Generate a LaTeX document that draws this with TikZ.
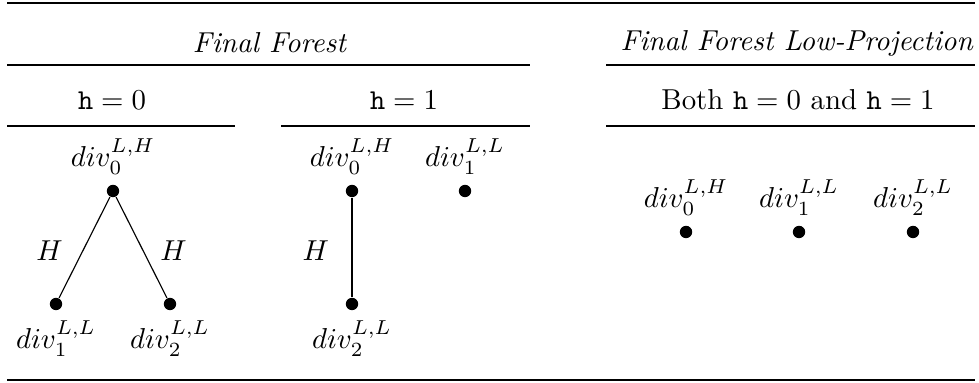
\documentclass[tikz,border=0pt]{standalone}
\usepackage{amsmath, amssymb}
\usepackage{tikz}

\begin{document}
\begin{tikzpicture}[x=0.347pt,y=-0.347pt,
  dot/.style={circle,fill,inner sep=0pt,minimum size=4.3pt},
  toprule/.style={line width=1pt},
  midrule/.style={line width=0.5pt}]
  \useasboundingbox (0,0) rectangle (979,383);
  % rules of the table
  \draw[toprule] (7,3)--(975,3);
  \draw[midrule] (7,65)--(530,65);
  \draw[midrule] (606,65)--(975,65);
  \draw[midrule] (7,126)--(235,126);
  \draw[midrule] (281,126)--(530,126);
  \draw[midrule] (606,126)--(975,126);
  \draw[toprule] (7,380)--(975,380);
  % headers
  \node (ff) at (270,43) {\textit{Final Forest}};
  \node (lp) at (797,43) {\textit{Final Forest Low-Projection}};
  \node (h0) at (112,100) {$\texttt{h}=0$};
  \node (h1) at (404,100) {$\texttt{h}=1$};
  \node (hb) at (798,100) {Both $\texttt{h}=0$ and $\texttt{h}=1$};
  % h = 0
  \node[dot,label=above:{$div_0^{L,H}$}] (a0) at (113,191) {};
  \node[dot,label=below:{$div_1^{L,L}$}] (a1) at (56,304) {};
  \node[dot,label=below:{$div_2^{L,L}$}] (a2) at (170,304) {};
  \draw (a0) -- node[left=4pt,yshift=-1pt]{$H$} (a1);
  \draw (a0) -- node[right=3pt,yshift=-1pt]{$H$} (a2);
  % h = 1
  \node[dot,label=above:{$div_0^{L,H}$}] (b0) at (352,191) {};
  \node[dot,label=above:{$div_1^{L,L}$}] (b1) at (465,191) {};
  \node[dot,label=below:{$div_2^{L,L}$}] (b2) at (352,304) {};
  \draw (b0) -- node[left=4.5pt,yshift=-1pt]{$H$} (b2);
  % low-projection
  \node[dot,label=above:{$div_0^{L,H}$}] (c0) at (686,232) {};
  \node[dot,label=above:{$div_1^{L,L}$}] (c1) at (799,232) {};
  \node[dot,label=above:{$div_2^{L,L}$}] (c2) at (913,232) {};
\end{tikzpicture}
\end{document}
